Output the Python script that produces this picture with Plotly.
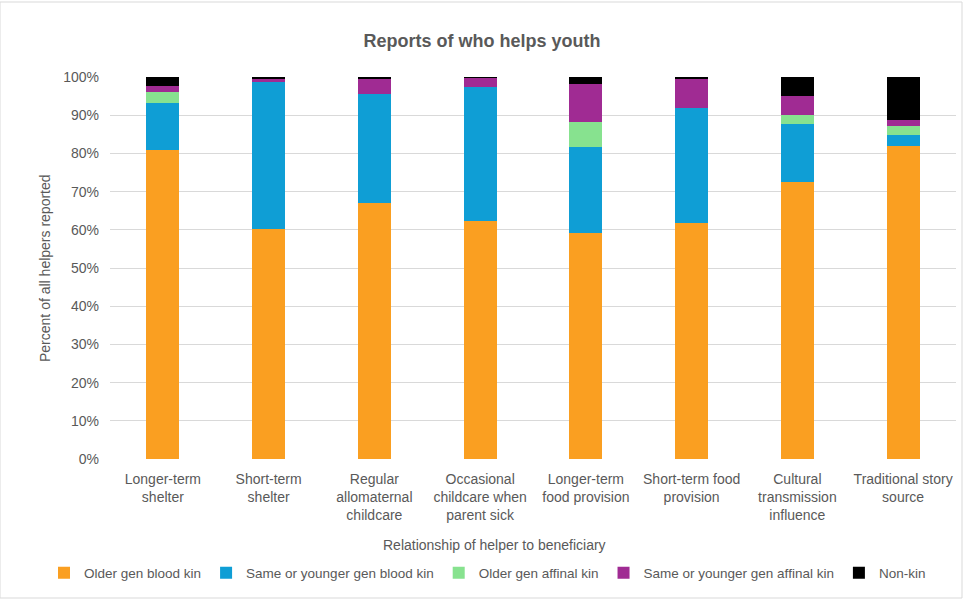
import plotly.graph_objects as go

categories = ["Longer-term<br>shelter", "Short-term<br>shelter", "Regular<br>allomaternal<br>childcare",
              "Occasional<br>childcare when<br>parent sick", "Longer-term<br>food provision",
              "Short-term food<br>provision", "Cultural<br>transmission<br>influence", "Traditional story<br>source"]
older_blood = [81.0, 60.2, 67.0, 62.2, 59.2, 61.8, 72.5, 81.9]
younger_blood = [12.3, 38.5, 28.5, 35.2, 22.6, 30.2, 15.2, 3.0]
older_affinal = [2.8, 0.0, 0.0, 0.0, 6.3, 0.0, 2.4, 2.3]
younger_affinal = [1.5, 0.9, 4.2, 2.4, 10.0, 7.5, 4.9, 1.5]
non_kin = [2.4, 0.4, 0.3, 0.2, 1.9, 0.5, 5.0, 11.3]

series = [
    ("Older gen blood kin", older_blood, "#FA9F21"),
    ("Same or younger gen blood kin", younger_blood, "#0F9ED5"),
    ("Older gen affinal kin", older_affinal, "#87E28F"),
    ("Same or younger gen affinal kin", younger_affinal, "#A02B93"),
    ("Non-kin", non_kin, "#000000"),
]

font_family = "Liberation Sans, Arial, sans-serif"
grey = "#595959"

fig = go.Figure()
for name, vals, col in series:
    fig.add_trace(go.Bar(x=categories, y=vals, name=name, marker_color=col,
                         marker_line_width=0))

fig.update_layout(
    barmode="stack",
    bargap=0.69,
    width=964, height=603,
    margin=dict(l=110, r=8, t=77, b=144),
    paper_bgcolor="white", plot_bgcolor="white",
    font=dict(family=font_family, size=14, color=grey),
    title=dict(text="Reports of who helps youth", x=0.5, xanchor="center",
               y=1 - 41 / 603, yanchor="middle",
               font=dict(family=font_family, size=18, color=grey, weight="bold")),
    showlegend=True,
    legend=dict(orientation="h", xref="paper", yref="paper",
                x=(44 - 110) / 846, xanchor="left", y=(459 - 573) / 382, yanchor="middle",
                font=dict(family=font_family, size=13.5, color=grey), traceorder="normal",
                itemwidth=30),
    xaxis=dict(showgrid=False, showline=False, ticks="", ticklabelstandoff=10,
               tickfont=dict(family=font_family, size=14, color=grey)),
    yaxis=dict(range=[0, 100], dtick=10, ticksuffix="%", showgrid=True,
               gridcolor="#D9D9D9", gridwidth=1, zeroline=False, showline=False,
               ticklabelstandoff=10,
               tickfont=dict(family=font_family, size=14, color=grey)),
    annotations=[
        dict(text="Relationship of helper to beneficiary", xref="paper", yref="paper",
             x=0.455, y=(459 - 545) / 382, showarrow=False, xanchor="center", yanchor="middle",
             font=dict(family=font_family, size=14, color=grey)),
        dict(text="Percent of all helpers reported", xref="paper", yref="paper",
             x=(45 - 110) / 846, y=0.5, textangle=-90, showarrow=False,
             xanchor="center", yanchor="middle",
             font=dict(family=font_family, size=14, color=grey)),
    ],
    shapes=[dict(type="rect", xref="paper", yref="paper",
                 x0=-110 / 846, x1=(962 - 110) / 846, y0=(459 - 598) / 382, y1=(459 - 2) / 382,
                 line=dict(color="#D9D9D9", width=1), fillcolor="rgba(0,0,0,0)", layer="below")],
)

fig.write_html("out.html")
